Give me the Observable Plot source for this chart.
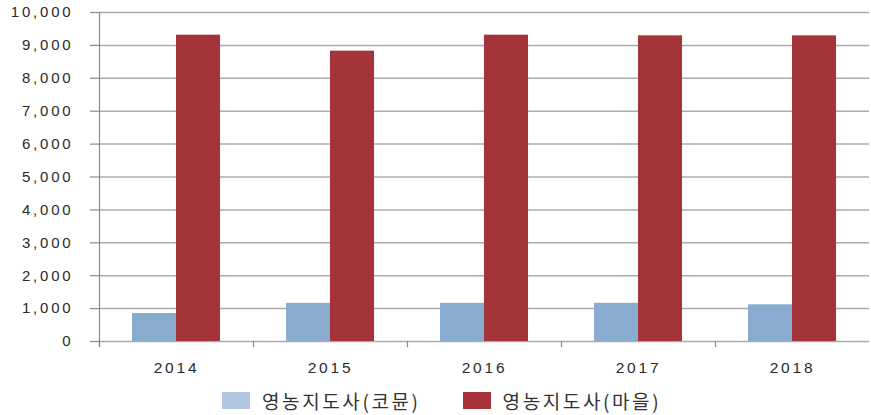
<!DOCTYPE html>
<html>
<head>
<meta charset="utf-8">
<script src="https://cdn.jsdelivr.net/npm/d3@7"></script>
<script src="https://cdn.jsdelivr.net/npm/@observablehq/plot@0.6"></script>
<style>
  html, body { margin: 0; padding: 0; background: #fff; }
  #chart { width: 871px; }
  .legend { display: flex; align-items: center; height: 32px; padding-left: 222px; padding-top: 2px; box-sizing: border-box; font-family: "Noto Sans CJK KR", sans-serif; font-size: 19px; color: #333; letter-spacing: 2.6px; }
  .legend .item { display: flex; align-items: center; margin-right: 42px; }
  .legend .sw { width: 28px; height: 17px; margin-right: 12px; }
</style>
</head>
<body>
<div id="chart"></div>
<script>
const years = ["2014", "2015", "2016", "2017", "2018"];
const seriesNames = ["영농지도사(코뮨)", "영농지도사(마을)"];
const communeValues = [850, 1160, 1160, 1160, 1115];
const villageValues = [9310, 8825, 9310, 9290, 9290];
const barColors = ["#8aabd0", "#a4333a"];
const legendColors = ["#afc5e0", "#a6343a"];
const yTicks = [0, 1000, 2000, 3000, 4000, 5000, 6000, 7000, 8000, 9000, 10000];

const data = [];
years.forEach((y, i) => {
  data.push({year: y, series: seriesNames[0], value: communeValues[i]});
  data.push({year: y, series: seriesNames[1], value: villageValues[i]});
});

const plot = Plot.plot({
  width: 871,
  height: 383,
  marginLeft: 97,
  marginRight: 0,
  marginTop: 12,
  marginBottom: 42,
  style: {fontFamily: "Liberation Sans, Arial, sans-serif", color: "#333", background: "#fff"},
  fx: {domain: years, padding: 0, label: null},
  x: {domain: seriesNames, paddingInner: 0, paddingOuter: 0.73, axis: null},
  y: {domain: [0, 10000], ticks: yTicks, label: null, axis: null},
  color: {domain: seriesNames, range: barColors},
  marks: [
    Plot.gridY(yTicks, {stroke: "#ababab", strokeOpacity: 1, strokeWidth: 1.5}),
    Plot.frame({anchor: "left", facetAnchor: "left", stroke: "#8a8a8a", strokeWidth: 1.2, insetBottom: -5}),
    Plot.frame({anchor: "left", stroke: "#8a8a8a", strokeWidth: 1.2, insetTop: 329, insetBottom: -5}),
    Plot.barY(data, {fx: "year", x: "series", y: "value", fill: "series"}),
    Plot.axisY(yTicks, {
      tickSize: 9, tickPadding: 17, stroke: "#8a8a8a", strokeWidth: 1.2,
      tickFormat: d3.format(","), fontSize: 15, fill: "#2a2a2a", label: null
    }),
    Plot.axisFx({anchor: "bottom", tickSize: 0, tickPadding: 20, fontSize: 15.5, fill: "#2a2a2a", label: null})
  ]
});

d3.select(plot).selectAll("text").style("letter-spacing", "2.8px");
document.getElementById("chart").appendChild(plot);

const legend = d3.select("#chart").append("div").attr("class", "legend");
seriesNames.forEach((s, i) => {
  const item = legend.append("div").attr("class", "item");
  item.append("div").attr("class", "sw").style("background", legendColors[i]);
  item.append("span").text(s);
});
</script>
</body>
</html>
